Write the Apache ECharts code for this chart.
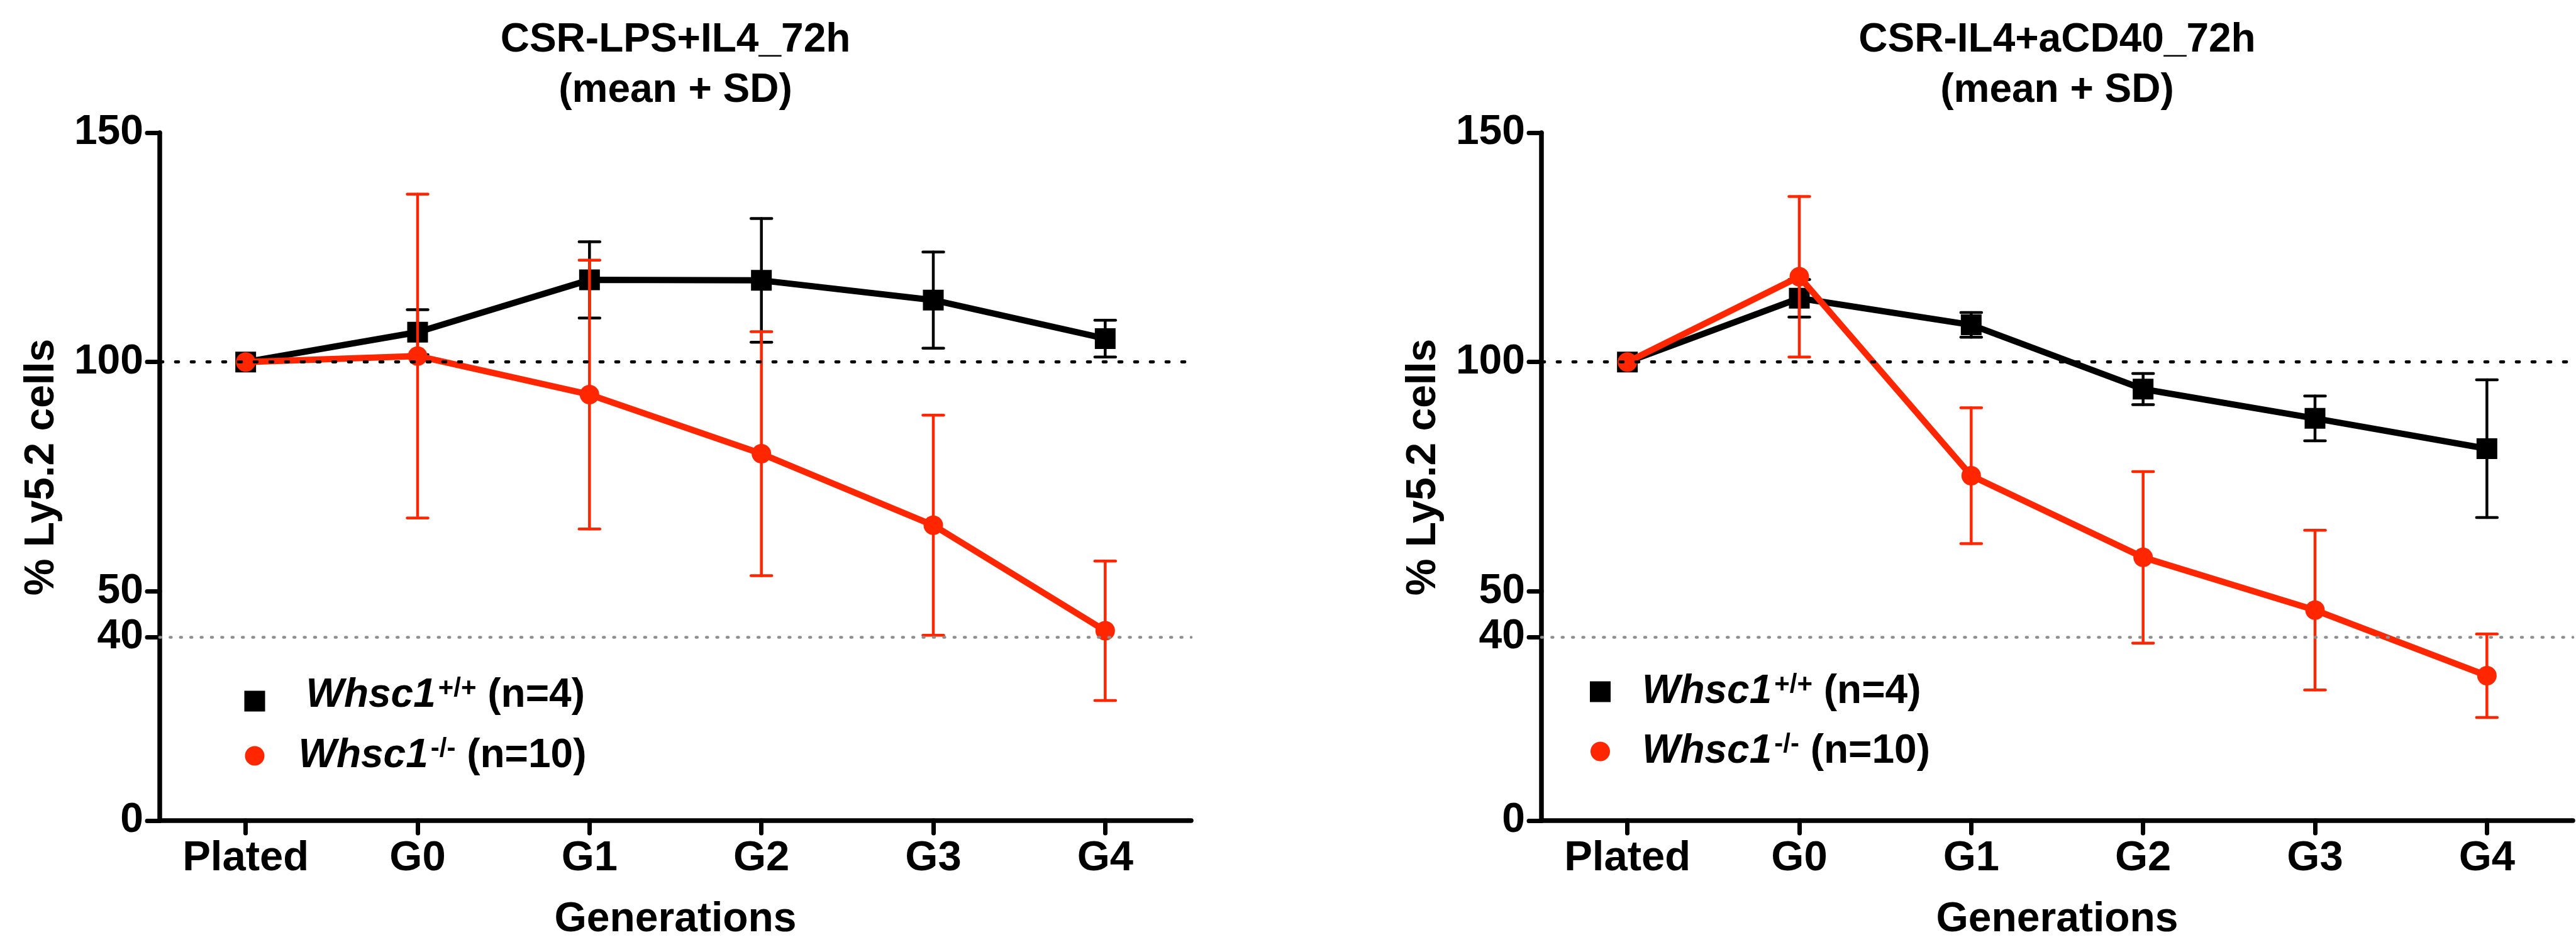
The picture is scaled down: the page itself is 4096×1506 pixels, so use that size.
<!DOCTYPE html>
<html>
<head>
<meta charset="utf-8">
<style>
  html, body { margin: 0; padding: 0; background: #ffffff; }
  #chart { width: 4096px; height: 1506px; }
</style>
<script src="https://cdn.jsdelivr.net/npm/echarts@6/dist/echarts.min.js"></script>
</head>
<body>
<div id="chart"></div>
<script>
// ---------------- data ----------------
const categories = ['Plated', 'G0', 'G1', 'G2', 'G3', 'G4'];

// Left panel: CSR-LPS+IL4_72h
const lpsWtMean = [100, 106.5, 117.9, 117.8, 113.5, 105.1];
const lpsWtSD   = [0, 4.9, 8.3, 13.5, 10.5, 4.0];
const lpsKoMean = [100, 101.3, 92.9, 80.0, 64.4, 41.4];
const lpsKoSD   = [0, 35.3, 29.3, 26.6, 24.0, 15.2];

// Right panel: CSR-IL4+aCD40_72h
const cd40WtMean = [100, 113.9, 108.1, 94.1, 87.7, 81.1];
const cd40WtSD   = [0, 4.1, 2.7, 3.4, 4.9, 15.0];
const cd40KoMean = [100, 118.6, 75.2, 57.4, 45.9, 31.6];
const cd40KoSD   = [0, 17.5, 14.8, 18.7, 17.4, 9.1];

const yTicks = [0, 40, 50, 100, 150];
const refLines = [100, 40];
const panelTitles = ['CSR-LPS+IL4_72h\n(mean + SD)', 'CSR-IL4+aCD40_72h\n(mean + SD)'];
const yAxisTitle = '% Ly5.2 cells';
const xAxisTitle = 'Generations';
const wtLabel = { gene: 'Whsc1', geno: '+/+', n: ' (n=4)' };
const koLabel = { gene: 'Whsc1', geno: '-/-', n: ' (n=10)' };

// ---------------- style ----------------
const FONT = '"Liberation Sans", Arial, Helvetica, sans-serif';
const BLACK = '#000000';
const RED = '#FF2600';

const gridTop = 211, gridH = 1094, gridW = 1640;
const gridLefts = [254, 2451];

function errRender(color) {
  return function (params, api) {
    const sd = api.value(2);
    if (!sd) return null;
    const idx = api.value(0), m = api.value(1);
    const x = api.coord([idx, m])[0];
    const yt = api.coord([idx, m + sd])[1];
    const yb = api.coord([idx, m - sd])[1];
    const hw = 16.5;
    const st = { stroke: color, lineWidth: 4.5, lineCap: 'round' };
    return {
      type: 'group',
      children: [
        { type: 'line', shape: { x1: x, y1: yt, x2: x, y2: yb }, style: st },
        { type: 'line', shape: { x1: x - hw, y1: yt, x2: x + hw, y2: yt }, style: st },
        { type: 'line', shape: { x1: x - hw, y1: yb, x2: x + hw, y2: yb }, style: st }
      ]
    };
  };
}

function errData(mean, sd) {
  return categories.map((c, i) => [i, mean[i], sd[i]]);
}

const richStyle = {
  i: { fontFamily: FONT, fontStyle: 'italic', fontWeight: 'bold', fontSize: 64, lineHeight: 64, color: BLACK },
  s: { fontFamily: FONT, fontWeight: 'bold', fontSize: 42, lineHeight: 34, verticalAlign: 'top', color: BLACK, padding: [0, 0, 0, 4] },
  n: { fontFamily: FONT, fontWeight: 'bold', fontSize: 64, lineHeight: 64, color: BLACK }
};
function legendText(lbl) {
  return '{i|' + lbl.gene + '}{s|' + lbl.geno + '}{n|' + lbl.n + '}';
}

const xAxes = [], yAxes = [], grids = [], series = [], legends = [], graphics = [];

const panels = [
  { wtMean: lpsWtMean, wtSD: lpsWtSD, koMean: lpsKoMean, koSD: lpsKoSD },
  { wtMean: cd40WtMean, wtSD: cd40WtSD, koMean: cd40KoMean, koSD: cd40KoSD }
];

panels.forEach((p, k) => {
  grids.push({ left: gridLefts[k], top: gridTop, width: gridW, height: gridH, outerBoundsMode: 'none', containLabel: false });
  xAxes.push({
    type: 'category', gridIndex: k, data: categories, boundaryGap: true,
    axisLine: { show: true, onZero: true, lineStyle: { color: BLACK, width: 7.5 } },
    axisTick: { show: true, alignWithLabel: true, inside: false, length: 20, lineStyle: { color: BLACK, width: 7, cap: 'round' } },
    axisLabel: { show: true, interval: 0, margin: 27, color: BLACK, fontFamily: FONT, fontWeight: 'bold', fontSize: 67 },
    splitLine: { show: false },
    name: xAxisTitle, nameLocation: 'middle', nameGap: 125, nameMoveOverlap: false,
    nameTextStyle: { color: BLACK, fontFamily: FONT, fontWeight: 'bold', fontSize: 66 }
  });
  yAxes.push({
    type: 'value', gridIndex: k, min: 0, max: 150, interval: 10,
    axisLine: { show: true, onZero: false, lineStyle: { color: BLACK, width: 7.5 } },
    axisTick: { show: true, inside: false, length: 20, customValues: yTicks, lineStyle: { color: BLACK, width: 7, cap: 'round' } },
    axisLabel: { show: true, margin: 26, customValues: yTicks, color: BLACK, fontFamily: FONT, fontWeight: 'bold', fontSize: 66 },
    splitLine: { show: false },
    name: yAxisTitle, nameLocation: 'middle', nameGap: 154, nameRotate: 90, nameMoveOverlap: false,
    nameTextStyle: { color: BLACK, fontFamily: FONT, fontWeight: 'bold', fontSize: 66, padding: [0, 0, 0, 30] }
  });

  const tag = k === 0 ? 'L' : 'R';
  series.push({
    name: 'WT_' + tag + '_err', type: 'custom', xAxisIndex: k, yAxisIndex: k,
    renderItem: errRender(BLACK), data: errData(p.wtMean, p.wtSD), z: 3, silent: true
  });
  series.push({
    name: 'WT_' + tag, type: 'line', xAxisIndex: k, yAxisIndex: k, data: p.wtMean,
    color: BLACK, symbol: 'rect', symbolSize: 33, showSymbol: true, z: 3,
    lineStyle: { color: BLACK, width: 10 }, itemStyle: { color: BLACK },
    markLine: {
      silent: true, symbol: ['none', 'none'], label: { show: false }, animation: false,
      data: [
        { yAxis: refLines[0], lineStyle: { color: BLACK, width: 4.8, type: [5, 20], cap: 'round' } },
        { yAxis: refLines[1], lineStyle: { color: '#8E8E8E', width: 4.5, type: [2, 14.4], cap: 'round' } }
      ]
    }
  });
  series.push({
    name: 'KO_' + tag + '_err', type: 'custom', xAxisIndex: k, yAxisIndex: k,
    renderItem: errRender(RED), data: errData(p.koMean, p.koSD), z: 4, silent: true
  });
  series.push({
    name: 'KO_' + tag, type: 'line', xAxisIndex: k, yAxisIndex: k, data: p.koMean,
    color: RED, symbol: 'circle', symbolSize: 31, showSymbol: true, z: 4,
    lineStyle: { color: RED, width: 10 }, itemStyle: { color: RED }
  });

  graphics.push({
    type: 'text', x: gridLefts[k] + gridW / 2, y: 24,
    style: { text: panelTitles[k], fontFamily: FONT, fontWeight: 'bold', fontSize: 64, lineHeight: 80,
             align: 'center', verticalAlign: 'top', fill: BLACK }
  });
});

// legends (one per entry, positioned inside each panel)
const legendPos = [
  { name: 'WT_L', icon: 'rect',   size: 33, left: 388.5, top: 1074.6, pad: [0, 0, 17, 60], lbl: wtLabel },
  { name: 'KO_L', icon: 'circle', size: 31, left: 389.5, top: 1170,   pad: [0, 0, 0, 49],  lbl: koLabel },
  { name: 'WT_R', icon: 'rect',   size: 33, left: 2528,  top: 1068,   pad: [0, 0, 0, 45],  lbl: wtLabel },
  { name: 'KO_R', icon: 'circle', size: 31, left: 2529,  top: 1163,   pad: [0, 0, 0, 46],  lbl: koLabel }
];
legendPos.forEach(lp => {
  legends.push({
    show: true, orient: 'vertical', left: lp.left, top: lp.top, padding: 0, itemGap: 0,
    itemWidth: lp.size, itemHeight: lp.size, selectedMode: false,
    data: [{ name: lp.name, icon: lp.icon }],
    formatter: () => legendText(lp.lbl),
    textStyle: { color: BLACK, fontFamily: FONT, fontWeight: 'bold', fontSize: 64, padding: lp.pad, rich: richStyle }
  });
});

const chart = echarts.init(document.getElementById('chart'), null, { renderer: 'canvas' });
chart.setOption({
  backgroundColor: '#ffffff',
  animation: false,
  grid: grids,
  xAxis: xAxes,
  yAxis: yAxes,
  legend: legends,
  series: series,
  graphic: graphics
});
</script>
</body>
</html>
